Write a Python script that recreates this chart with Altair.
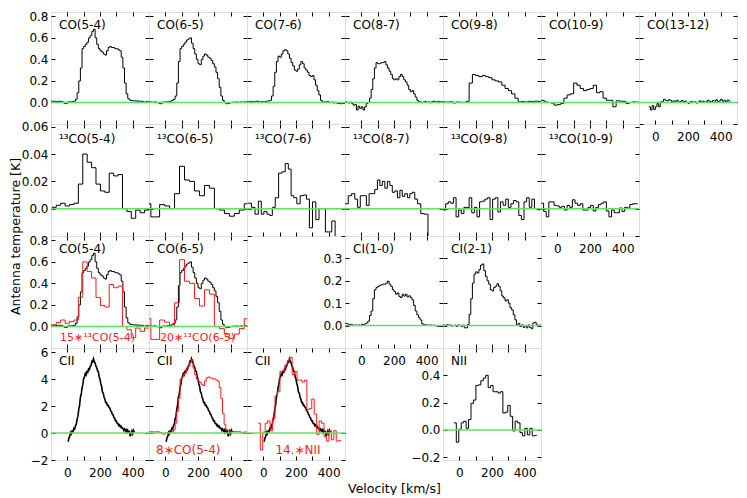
import altair as alt
import pandas as pd

W, H = 98, 112
XDOM = [-100, 500]
XTICKS = [0, 100, 200, 300, 400]
XLABELS = [0, 200, 400]
FONT = "DejaVu Sans"
GREEN = "#5ee35e"
RED = "#ff1a1a"

# ---------------- velocity grids (channel centres, km/s) ----------------
V10 = [-95, -85, -75, -65, -55, -45, -35, -25, -15, -5,
       5, 15, 25, 35, 45, 55, 65, 75, 85, 95,
       105, 115, 125, 135, 145, 155, 165, 175, 185, 195,
       205, 215, 225, 235, 245, 255, 265, 275, 285, 295,
       305, 315, 325, 335, 345, 355, 365, 375, 385, 395,
       405, 415, 425, 435, 445, 455, 465, 475, 485, 495]
V20 = [-90, -70, -50, -30, -10, 10, 30, 50, 70, 90,
       110, 130, 150, 170, 190, 210, 230, 250, 270, 290,
       310, 330, 350, 370, 390, 410, 430, 450, 470, 490]
V1312 = [-35, -25, -15, -5, 5, 15, 25, 35, 45, 55,
         65, 75, 85, 95, 105, 115, 125, 135, 145, 155,
         165, 175, 185, 195, 205, 215, 225, 235, 245, 255,
         265, 275, 285, 295, 305, 315, 325, 335, 345, 355,
         365, 375, 385, 395, 405, 415, 425, 435, 445, 455]
V13A = [-81, -54, -27, 0, 27, 54, 81, 108, 135, 162, 189, 216, 243, 270,
        297, 324, 351, 378, 405, 432, 459, 486]
V13B = [-96, -81, -50, -20, 11, 41, 72, 102, 133, 163, 194, 224, 255, 285,
        316, 346, 377, 407, 438, 468, 499]
V13C = [-85, -61, -41, -20, -5, 12, 32, 47, 63, 83, 104, 124, 144, 162, 178,
        195, 215, 236, 256, 273, 291, 311, 332, 350, 370, 390, 409, 429, 450, 475]
V13D = [-90, -70, -49, -31, -15, 2, 22, 40, 55, 73, 91, 106, 121, 136, 152, 167,
        182, 197, 213, 229, 243, 258, 274, 290, 304, 319, 335, 354, 374, 396,
        420, 450, 480]
V16 = [-92, -76, -60, -44, -28, -12, 4, 20, 36, 52, 68, 84, 100, 116, 132, 148,
       164, 180, 196, 212, 228, 244, 260, 276, 292, 308, 324, 340, 356, 372,
       388, 404, 420, 436, 452, 468, 484]
VCII = [5, 10, 15, 20, 25, 30, 35, 40, 45, 50, 55, 60, 65, 70, 75, 80, 85, 90,
        95, 100, 105, 110, 115, 120, 125, 130, 135, 140, 145, 150, 155, 160,
        165, 170, 175, 180, 185, 190, 195, 200, 205, 210, 215, 220, 225, 230,
        235, 240, 245, 250, 255, 260, 265, 270, 275, 280, 285, 290, 295, 300,
        305, 310, 315, 320, 325, 330, 335, 340, 345, 350, 355, 360, 365, 370,
        375, 380, 385, 390, 395, 400, 405, 410]
VNII = [-26, -11, 4, 19, 34, 49, 64, 79, 94, 109, 124, 139, 154, 169, 184, 199,
        214, 229, 244, 259, 274, 289, 304, 319, 334, 349, 364, 379, 394, 409,
        424, 439, 454, 469]

# ---------------- spectra (antenna temperature, K) ----------------
CO54 = [0.012, 0.010, 0.011, 0.009, 0.010, 0.012, 0.008, 0.004, -0.008, -0.010,
        0.004, 0.006, 0.005, 0.008, 0.012, 0.03, 0.09, 0.20, 0.32, 0.50,
        0.52, 0.54, 0.56, 0.60, 0.62, 0.66, 0.68, 0.60, 0.54, 0.50,
        0.48, 0.47, 0.45, 0.44, 0.48, 0.51, 0.52, 0.51, 0.51, 0.50,
        0.50, 0.49, 0.48, 0.42, 0.32, 0.18, 0.08, 0.035, 0.022, 0.018,
        0.015, 0.015, 0.012, 0.014, 0.010, 0.012, 0.008, -0.002, 0.008, 0.010]
CO65 = [0.005, 0.004, 0.002, 0.005, 0.003, 0.000, -0.008, -0.012, 0.002, 0.004,
        0.003, 0.006, 0.008, 0.012, 0.02, 0.03, 0.06, 0.18, 0.38, 0.50,
        0.52, 0.54, 0.56, 0.58, 0.59, 0.60, 0.55, 0.50, 0.45, 0.40,
        0.36, 0.35, 0.40, 0.43, 0.45, 0.44, 0.42, 0.41, 0.39, 0.36,
        0.33, 0.28, 0.22, 0.14, 0.06, 0.02, 0.00, -0.012, -0.010, -0.005,
        0.000, 0.003, 0.002, 0.004, 0.003, 0.000, 0.005, 0.002, 0.004, 0.006]
CO76 = [0.008, 0.005, 0.010, 0.008, 0.004, 0.010, 0.012, 0.006, 0.004, 0.008,
        0.003, 0.010, 0.012, 0.015, 0.02, 0.06, 0.15, 0.28, 0.38, 0.43,
        0.42, 0.45, 0.48, 0.49, 0.48, 0.45, 0.41, 0.37, 0.34, 0.30,
        0.29, 0.31, 0.35, 0.38, 0.36, 0.32, 0.30, 0.28, 0.25, 0.24,
        0.25, 0.21, 0.16, 0.11, 0.07, 0.02, 0.005, 0.006, 0.002, 0.008,
        0.003, -0.002, 0.004, -0.005, 0.001, -0.008, -0.010, -0.012, -0.008, -0.010]
CO87 = [0.005, 0.002, -0.005, 0.003, -0.010, -0.025, -0.020, -0.070, -0.035, -0.055,
        -0.040, -0.070, -0.040, -0.010, 0.000, 0.04, 0.12, 0.22, 0.32, 0.37,
        0.36, 0.36, 0.37, 0.37, 0.38, 0.35, 0.32, 0.29, 0.26, 0.22,
        0.21, 0.22, 0.21, 0.24, 0.26, 0.24, 0.21, 0.19, 0.16, 0.12,
        0.10, 0.11, 0.08, 0.05, 0.02, 0.006, 0.005, -0.002, 0.006, 0.010,
        0.000, 0.005, -0.003, 0.008, 0.012, 0.004, 0.006, 0.010, 0.005, 0.008]
CO98 = [0.005, 0.003, 0.006, -0.004, 0.004, 0.002, 0.000, 0.010, 0.18, 0.26,
        0.25, 0.24, 0.25, 0.24, 0.23, 0.21, 0.20, 0.19, 0.16, 0.13,
        0.11, 0.08, 0.04, 0.006, 0.008, 0.004, 0.010, 0.008, 0.012, 0.010]
CO109 = [0.02, 0.005, 0.0, -0.005, -0.025, -0.02, -0.01, 0.04, 0.07, 0.08,
         0.18, 0.16, 0.13, 0.11, 0.12, 0.13, 0.16, 0.09, 0.10, 0.04,
         0.02, 0.02, -0.04, 0.015, 0.012, 0.010, -0.010, 0.0, 0.005, 0.002]
CO1312 = [-0.04, -0.07, -0.03, -0.065, -0.04, -0.01, -0.04, 0.005, 0.01, 0.03,
          0.02, 0.015, 0.025, 0.02, 0.005, 0.015, 0.01, 0.02, 0.0, 0.01,
          0.018, 0.008, 0.012, 0.0, -0.008, 0.005, 0.01, 0.0, 0.006, -0.005,
          0.003, 0.015, 0.005, 0.012, 0.0, 0.008, 0.02, 0.01, 0.005, 0.018,
          0.012, 0.025, 0.008, 0.015, 0.03, 0.01, 0.02, 0.006, 0.022, 0.012]
C13_54 = [0.001, 0.0025, 0.004, 0.002, 0.003, 0.004, 0.018, 0.040, 0.034, 0.030,
          0.018, 0.013, 0.012, 0.026, 0.024, 0.025, 0.0, -0.002, -0.007, -0.001,
          -0.003, -0.001]
C13_65 = [0.0036, -0.006, -0.006, 0.003, 0.002, 0.0, 0.011, 0.031, 0.021, 0.020,
          0.013, 0.0095, 0.017, 0.015, 0.0, -0.001, -0.0035, -0.0055, -0.0035,
          -0.001, 0.0036]
C13_76 = [0.004, 0.001, -0.004, 0.0055, -0.004, -0.002, -0.004, -0.005, 0.001, 0.008,
          0.026, 0.027, 0.033, 0.029, 0.0095, 0.008, 0.0036, 0.0095, 0.010, 0.007,
          -0.014, 0.005, -0.008, 0.0, 0.0, -0.017, -0.017, -0.009, -0.03, -0.03]
C13_87 = [0.0036, 0.0095, 0.011, 0.007, 0.001, 0.0095, 0.0095, 0.0024, 0.011, 0.011,
          0.014, 0.021, 0.017, 0.020, 0.015, 0.020, 0.017, 0.012, 0.013, 0.008,
          0.0135, 0.009, 0.011, 0.008, 0.011, 0.012, 0.007, 0.0036, -0.0036, -0.004,
          -0.05, -0.05, -0.05]
C13_98 = [-0.001, 0.0036, 0.005, 0.004, 0.008, -0.006, -0.001, -0.0036, 0.001, 0.0008,
          0.008, -0.003, 0.001, -0.006, 0.005, 0.0055, 0.007, 0.008, -0.008, 0.007,
          0.008, -0.0024, 0.005, 0.0025, 0.007, 0.001, 0.0036, 0.006, 0.005, -0.005,
          -0.008, 0.005, 0.008, 0.001, 0.007, 0.0, -0.0008]
C13_109 = [0.004, -0.002, -0.006, 0.005, 0.005, 0.0024, 0.002, 0.001, 0.0017, -0.001,
           0.0024, 0.001, 0.0065, 0.004, 0.0024, 0.0036, -0.001, -0.001, 0.001, 0.0024,
           -0.0017, 0.001, 0.003, 0.004, 0.005, -0.0017, -0.006, -0.001, -0.003, -0.003,
           0.0005, -0.002, 0.001, 0.0005, 0.003, 0.0036, 0.0036]
CI10 = [0.010, 0.008, 0.003, 0.006, 0.004, 0.000, 0.003, 0.000, 0.003, 0.000,
        0.006, 0.004, 0.008, 0.012, 0.020, 0.045, 0.065, 0.12, 0.16, 0.17,
        0.175, 0.18, 0.182, 0.185, 0.185, 0.19, 0.198, 0.185, 0.175, 0.16,
        0.152, 0.14, 0.146, 0.13, 0.125, 0.14, 0.132, 0.14, 0.128, 0.133,
        0.125, 0.115, 0.09, 0.065, 0.048, 0.035, 0.025, 0.008, 0.004, 0.003,
        0.003, 0.001, 0.003, 0.000, 0.002, 0.000, -0.002, -0.004, 0.000, -0.003]
CI21 = [0.003, 0.000, 0.004, 0.002, 0.003, -0.002, 0.000, 0.002, -0.004, 0.003,
        0.000, -0.003, 0.002, -0.010, -0.010, 0.005, 0.05, 0.12, 0.19, 0.23,
        0.24, 0.235, 0.25, 0.27, 0.275, 0.245, 0.22, 0.20, 0.185, 0.16,
        0.155, 0.17, 0.176, 0.187, 0.175, 0.155, 0.132, 0.124, 0.11, 0.115,
        0.10, 0.08, 0.07, 0.048, 0.026, 0.003, 0.010, -0.004, 0.003, -0.008,
        0.000, -0.010, 0.003, -0.008, -0.014, 0.012, 0.015, 0.006, 0.000, 0.002]
CII = [-0.65, -0.35, -0.25, 0.05, -0.05, 0.15, 0.10, 0.35, 0.30, 0.55,
       0.65, 1.05, 1.25, 1.75, 2.05, 2.65, 2.85, 3.35, 3.60, 4.05,
       4.15, 4.40, 4.30, 4.55, 4.50, 4.75, 4.70, 4.95, 5.00, 5.30,
       5.25, 5.50, 5.30, 5.20, 4.95, 4.85, 4.60, 4.55, 4.15, 4.00,
       3.65, 3.45, 3.05, 2.95, 2.65, 2.50, 2.25, 2.25, 2.05, 2.05,
       1.90, 1.85, 1.65, 1.60, 1.40, 1.35, 1.15, 1.10, 0.90, 0.90,
       0.70, 0.70, 0.55, 0.60, 0.45, 0.50, 0.35, 0.35, 0.20, 0.30,
       0.15, 0.25, 0.05, 0.20, 0.05, 0.10, -0.25, -0.05, 0.15, -0.05,
       0.20, 0.05]
NII = [0.052, -0.09, 0.005, 0.052, 0.064, 0.012, 0.076, 0.195, 0.219, 0.326,
       0.33, 0.36, 0.38, 0.40, 0.31, 0.326, 0.28, 0.28, 0.27, 0.28,
       0.124, 0.13, 0.18, 0.10, -0.007, 0.064, 0.052, -0.02, -0.043, 0.012,
       -0.036, 0.012, -0.043, -0.04]

# axis ranges / ticks
Y_CO, YT_CO, YL_CO = [-0.2, 0.84], [-0.2, 0.0, 0.2, 0.4, 0.6, 0.8], [0.0, 0.2, 0.4, 0.6, 0.8]
Y_13, YT_13, YL_13 = [-0.02, 0.062], [-0.02, 0.0, 0.02, 0.04, 0.06], [0.0, 0.02, 0.04, 0.06]
Y_CI, YT_CI = [-0.1, 0.4], [0.0, 0.1, 0.2, 0.3]
Y_CII, YT_CII = [-2, 6.3], [-2, 0, 2, 4, 6]
Y_NII, YT_NII = [-0.22, 0.6], [-0.2, 0.0, 0.2, 0.4]

ONE = pd.DataFrame({"z": [0]})
AX = dict(labelFont=FONT, labelFontSize=12, labelColor="black", labelFontWeight="normal",
          titleFont=FONT, titleFontSize=12.5, titleFontWeight="normal", titleColor="black")


def steps(v, t, factor=1.0):
    """Channel table; the outer channels are extended by half a channel width."""
    t = [x * factor for x in t]
    h0 = (v[1] - v[0]) / 2
    h1 = (v[-1] - v[-2]) / 2
    return pd.DataFrame({"v": [v[0] - h0] + list(v) + [v[-1] + h1],
                         "T": [t[0]] + t + [t[-1]]})


def panel(df, ydom, yticks, title, title_y=13, interp="step", lw=1.0,
          red=None, red_text=None, red_x=8, red_align="left", red_size=12,
          xlab=False, xtitle=None, ylab=None, yfmt=".1f", yexpr=None, ytitle=None):
    xs = alt.Scale(domain=XDOM, nice=False, zero=False)
    ys = alt.Scale(domain=ydom, nice=False, zero=False)

    if xlab:
        kw = dict(orient="bottom", values=XLABELS, format="d", ticks=False, tickSize=0,
                  domain=False, grid=False, labelPadding=7, labelFlush=False, **AX)
        if xtitle:
            kw.update(title=xtitle, titleX=147, titleY=22, titleAlign="center",
                      titleBaseline="top", titleAngle=0)
        else:
            kw.update(title=None)
        xax = alt.Axis(**kw)
    else:
        xax = None
    if ylab is not None:
        kw = dict(orient="left", values=ylab, ticks=False, tickSize=0, domain=False,
                  grid=False, labelPadding=3, labelFlush=False, **AX)
        if yexpr:
            kw.update(labelExpr=yexpr)
        else:
            kw.update(format=yfmt)
        if ytitle:
            kw.update(title=ytitle, titleX=-28.5, titleY=H, titleAngle=270,
                      titleAlign="center", titleBaseline="bottom")
        else:
            kw.update(title=None)
        yax = alt.Axis(**kw)
    else:
        yax = None

    layers = [alt.Chart(df).mark_line(interpolate=interp, color="black", strokeWidth=lw,
                                      clip=True).encode(
        x=alt.X("v:Q", scale=xs, axis=xax),
        y=alt.Y("T:Q", scale=ys, axis=yax))]
    if red is not None:
        layers.append(alt.Chart(red).mark_line(interpolate="step", color=RED,
                                               strokeWidth=1, clip=True).encode(
            x=alt.X("v:Q", scale=xs, axis=None),
            y=alt.Y("T:Q", scale=ys, axis=None)))

    tick = dict(labels=False, domain=False, grid=False, ticks=True, tickSize=4,
                tickColor="black", tickWidth=1, title=None)
    # zero line + inward ticks on bottom and left
    layers.append(alt.Chart(ONE).mark_rule(color=GREEN, strokeWidth=1.5).encode(
        x=alt.XDatum(XDOM[0], scale=xs,
                     axis=alt.Axis(orient="top", offset=-H, values=XTICKS, **tick)),
        x2=alt.X2Datum(XDOM[1]),
        y=alt.YDatum(0, scale=ys,
                     axis=alt.Axis(orient="right", offset=-W, values=yticks, **tick))))
    # inward ticks on top and right
    layers.append(alt.Chart(ONE).mark_rule(opacity=0).encode(
        x=alt.XDatum(XDOM[0], scale=xs,
                     axis=alt.Axis(orient="bottom", offset=-H, values=XTICKS, **tick)),
        x2=alt.X2Datum(XDOM[1]),
        y=alt.YDatum(0, scale=ys,
                     axis=alt.Axis(orient="left", offset=-W, values=yticks, **tick))))

    layers.append(alt.Chart(ONE).mark_text(text=title, align="left", baseline="middle",
                                           color="black", font=FONT, fontSize=12,
                                           fontWeight="normal").encode(
        x=alt.value(8), y=alt.value(title_y)))
    if red_text:
        layers.append(alt.Chart(ONE).mark_text(text=red_text, align=red_align,
                                               baseline="middle", color=RED, font=FONT,
                                               fontSize=red_size,
                                               fontWeight="normal").encode(
            x=alt.value(red_x), y=alt.value(H - 10)))

    return alt.layer(*layers).resolve_axis(x="independent", y="independent").properties(
        width=W, height=H)


def empty():
    return alt.Chart(ONE).mark_point(opacity=0).encode(
        x=alt.X("z:Q", axis=None), y=alt.Y("z:Q", axis=None)
    ).properties(width=W, height=H, view=alt.ViewBackground(stroke="transparent"))


L13 = "datum.value == 0 ? '0.0' : format(datum.value, '.2f')"

cells = [
    # row 1
    panel(steps(V10, CO54), Y_CO, YT_CO, "CO(5-4)", ylab=YL_CO),
    panel(steps(V10, CO65), Y_CO, YT_CO, "CO(6-5)"),
    panel(steps(V10, CO76), Y_CO, YT_CO, "CO(7-6)"),
    panel(steps(V10, CO87), Y_CO, YT_CO, "CO(8-7)"),
    panel(steps(V20, CO98), Y_CO, YT_CO, "CO(9-8)"),
    panel(steps(V20, CO109), Y_CO, YT_CO, "CO(10-9)"),
    panel(steps(V1312, CO1312), Y_CO, YT_CO, "CO(13-12)", xlab=True),
    # row 2
    panel(steps(V13A, C13_54), Y_13, YT_13, "¹³CO(5-4)", title_y=15, ylab=YL_13,
          yexpr=L13, ytitle="Antenna temperature [K]"),
    panel(steps(V13B, C13_65), Y_13, YT_13, "¹³CO(6-5)", title_y=15),
    panel(steps(V13C, C13_76), Y_13, YT_13, "¹³CO(7-6)", title_y=15),
    panel(steps(V13D, C13_87), Y_13, YT_13, "¹³CO(8-7)", title_y=15),
    panel(steps(V16, C13_98), Y_13, YT_13, "¹³CO(9-8)", title_y=15),
    panel(steps(V16, C13_109), Y_13, YT_13, "¹³CO(10-9)", title_y=15, xlab=True),
    empty(),
    # row 3
    panel(steps(V10, CO54), Y_CO, YT_CO, "CO(5-4)", ylab=YL_CO,
          red=steps(V13A, C13_54, 15), red_text="15∗¹³CO(5-4)", red_x=9, red_size=11),
    panel(steps(V10, CO65), Y_CO, YT_CO, "CO(6-5)",
          red=steps(V13B, C13_65, 20), red_text="20∗¹³CO(6-5)", red_x=11, red_size=11),
    empty(),
    panel(steps(V10, CI10), Y_CI, YT_CI, "CI(1-0)", ylab=YT_CI, xlab=True),
    panel(steps(V10, CI21), Y_CI, YT_CI, "CI(2-1)"),
    empty(),
    empty(),
    # row 4
    panel(pd.DataFrame({"v": VCII, "T": CII}), Y_CII, YT_CII, "CII", interp="linear",
          lw=1.6, ylab=YT_CII, yfmt="d", xlab=True),
    panel(pd.DataFrame({"v": VCII, "T": CII}), Y_CII, YT_CII, "CII", interp="linear",
          lw=1.6, xlab=True, red=steps(V10, CO54, 8), red_text="8∗CO(5-4)", red_x=7),
    panel(pd.DataFrame({"v": VCII, "T": CII}), Y_CII, YT_CII, "CII", interp="linear",
          lw=1.6, xlab=True, xtitle="Velocity [km/s]",
          red=steps(VNII, NII, 14), red_text="14.∗NII", red_x=51, red_align="center"),
    empty(),
    panel(steps(VNII, NII), Y_NII, YT_NII, "NII", ylab=YT_NII, xlab=True),
    empty(),
    empty(),
]

chart = alt.concat(*cells, columns=7, spacing=0, bounds="flush").properties(
    padding={"left": 0, "top": 1, "right": 0, "bottom": 0}
).configure_view(
    stroke="black", strokeWidth=1
).configure_axis(
    grid=False, **AX
).configure(background="white")

chart.save("out.html", embed_options={"renderer": "svg", "actions": False})
